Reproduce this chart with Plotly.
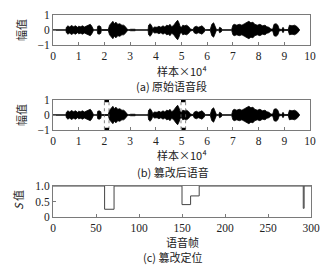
import plotly.graph_objects as go

# ---- data ----
# speech envelope (x in units of 10^4 samples, upper amplitude)
env_x = [0.00, 0.50, 0.52, 0.58, 0.65, 0.72, 0.80, 0.88, 0.95, 1.00, 1.08, 1.15, 1.22, 1.30, 1.38,
         1.45, 1.50, 1.55, 1.58, 1.72, 1.74, 1.80, 1.86, 1.88, 2.15, 2.20, 2.28, 2.33, 2.38, 2.45,
         2.52, 2.60, 2.68, 2.75, 2.82, 2.88, 2.95, 3.02, 3.20, 3.22, 3.70, 3.72, 3.78, 3.84, 3.88,
         3.95, 4.05, 4.12, 4.20, 4.28, 4.35, 4.42, 4.50, 4.55, 4.62, 4.70, 4.78, 4.85, 4.90, 4.95,
         5.00, 5.05, 5.12, 5.20, 5.28, 5.35, 5.45, 5.50, 5.58, 5.65, 5.72, 5.80, 5.88, 5.92, 6.12,
         6.18, 6.25, 6.32, 6.36, 6.45, 6.48, 6.55, 6.58, 6.95, 7.00, 7.05, 7.15, 7.25, 7.35, 7.45,
         7.55, 7.62, 7.70, 7.78, 7.85, 7.95, 8.05, 8.15, 8.25, 8.32, 8.40, 8.48, 8.55, 8.60, 8.68,
         8.75, 8.80, 8.90, 8.95, 9.00, 9.15, 9.20, 9.30, 9.40, 9.50, 9.58, 9.60]
env_a = [0.01, 0.01, 0.18, 0.28, 0.20, 0.30, 0.22, 0.28, 0.18, 0.25, 0.22, 0.28, 0.20, 0.25, 0.32,
         0.38, 0.28, 0.12, 0.01, 0.01, 0.25, 0.28, 0.22, 0.03, 0.03, 0.32, 0.48, 0.58, 0.42, 0.52,
         0.38, 0.42, 0.32, 0.32, 0.22, 0.06, 0.01, 0.05, 0.05, 0.01, 0.01, 0.32, 0.42, 0.28, 0.10,
         0.20, 0.18, 0.25, 0.18, 0.28, 0.20, 0.32, 0.28, 0.38, 0.22, 0.32, 0.52, 0.65, 0.48, 0.22,
         0.18, 0.32, 0.28, 0.32, 0.22, 0.06, 0.03, 0.20, 0.25, 0.18, 0.22, 0.28, 0.14, 0.02, 0.03,
         0.38, 0.48, 0.22, 0.03, 0.02, 0.18, 0.12, 0.02, 0.02, 0.32, 0.38, 0.32, 0.38, 0.32, 0.42,
         0.52, 0.58, 0.48, 0.52, 0.38, 0.32, 0.38, 0.28, 0.32, 0.22, 0.18, 0.06, 0.06, 0.38, 0.42,
         0.32, 0.06, 0.03, 0.18, 0.03, 0.03, 0.32, 0.28, 0.32, 0.22, 0.06, 0.00]

# tampered regions (x 10^4 samples)
tamper_start = [2.00, 4.98]
tamper_end = [2.18, 5.16]
tamper_amp = 0.95

# tamper localisation S value per frame (step vertices)
frame = [0, 60, 60, 71, 71, 150, 150, 160, 160, 170, 170, 291, 291, 292, 292, 300]
s_val = [1, 1, 0.25, 0.25, 1, 1, 0.40, 0.40, 0.68, 0.68, 1, 1, 0.28, 0.28, 1, 1]

wave_ticks = [0, 1, 2, 3, 4, 5, 6, 7, 8, 9, 10]
amp_ticks = [-1, 0, 1]
amp_text = ["\u22121", "0", "1"]
frame_ticks = [0, 50, 100, 150, 200, 250, 300]
s_ticks = [0, 0.5, 1.0]
s_text = ["0", "0.5", "1.0"]

W, H = 334, 271
SERIF = "Liberation Serif"
CJK = "Noto Sans CJK SC"
FRAME = "#7a7a7a"

fig = go.Figure()

def add_wave(xa, ya):
    lower = [-a for a in env_a]
    fig.add_trace(go.Scatter(x=env_x, y=env_a, mode="lines", line=dict(color="black", width=0.8),
                             xaxis=xa, yaxis=ya, showlegend=False, hoverinfo="skip"))
    fig.add_trace(go.Scatter(x=env_x, y=lower, mode="lines", line=dict(color="black", width=0.8),
                             fill="tonexty", fillcolor="black",
                             xaxis=xa, yaxis=ya, showlegend=False, hoverinfo="skip"))

add_wave("x", "y")
add_wave("x2", "y2")

# tamper boxes in panel b
for x0, x1 in zip(tamper_start, tamper_end):
    fig.add_trace(go.Scatter(x=[x0, x0, None, x1, x1], y=[-tamper_amp, tamper_amp, None, -tamper_amp, tamper_amp],
                             mode="lines", line=dict(color="#666666", width=0.8, dash="dot"),
                             xaxis="x2", yaxis="y2", showlegend=False, hoverinfo="skip"))
    fig.add_trace(go.Scatter(x=[x0, x1, None, x0, x1], y=[tamper_amp, tamper_amp, None, -tamper_amp, -tamper_amp],
                             mode="lines", line=dict(color="black", width=3),
                             xaxis="x2", yaxis="y2", showlegend=False, hoverinfo="skip"))

fig.add_trace(go.Scatter(x=frame, y=s_val, mode="lines", line=dict(color="#444444", width=1),
                         xaxis="x3", yaxis="y3", showlegend=False, hoverinfo="skip"))

def px_x(p):
    return p / W

def px_y(p):
    return 1 - p / H

xdom = [px_x(53), px_x(310)]
axcommon = dict(showgrid=False, zeroline=False, showline=True, linecolor=FRAME, linewidth=1,
                mirror=True, ticks="inside", ticklen=3, tickcolor=FRAME, tickwidth=1,
                automargin=False,
                tickfont=dict(family=SERIF, size=11.5, color="#222222"))

fig.update_layout(
    template="none",
    width=W, height=H, autosize=False,
    margin=dict(l=0, r=0, t=0, b=0, pad=0),
    paper_bgcolor="white", plot_bgcolor="white",
    xaxis=dict(domain=xdom, range=[0, 10], tickvals=wave_ticks, anchor="y", **axcommon),
    yaxis=dict(domain=[px_y(45), px_y(15)], range=[-1, 1], tickvals=amp_ticks, ticktext=amp_text,
               anchor="x", **axcommon),
    xaxis2=dict(domain=xdom, range=[0, 10], tickvals=wave_ticks, anchor="y2", **axcommon),
    yaxis2=dict(domain=[px_y(130), px_y(100)], range=[-1, 1], tickvals=amp_ticks, ticktext=amp_text,
                anchor="x2", **axcommon),
    xaxis3=dict(domain=[px_x(53), px_x(311)], range=[0, 300], tickvals=frame_ticks, anchor="y3", **axcommon),
    yaxis3=dict(domain=[px_y(217), px_y(186)], range=[0, 1], tickvals=s_ticks, ticktext=s_text,
                anchor="x3", **axcommon),
)

def ann(text, x, y, size=11, angle=0, family=CJK):
    fig.add_annotation(text=text, x=px_x(x), y=px_y(y), xref="paper", yref="paper",
                       showarrow=False, textangle=angle, xanchor="center", yanchor="middle",
                       font=dict(family=family, size=size, color="#222222"))

ann("幅值", 21, 30, angle=-90)
ann("幅值", 21, 115, angle=-90)
ann("<i>S</i> 值", 18, 200, angle=-90)
ann("样本×10⁴", 182, 71)
ann("样本×10⁴", 182, 155)
ann("语音帧", 182, 242)
ann("(a) 原始语音段", 172, 86, size=11)
ann("(b) 篡改后语音", 173, 172, size=11)
ann("(c) 篡改定位", 173, 257, size=11)

fig.write_html("out.html", config={"displayModeBar": False, "staticPlot": True},
               post_script="document.body.style.margin='0';document.body.style.overflow='hidden';")
